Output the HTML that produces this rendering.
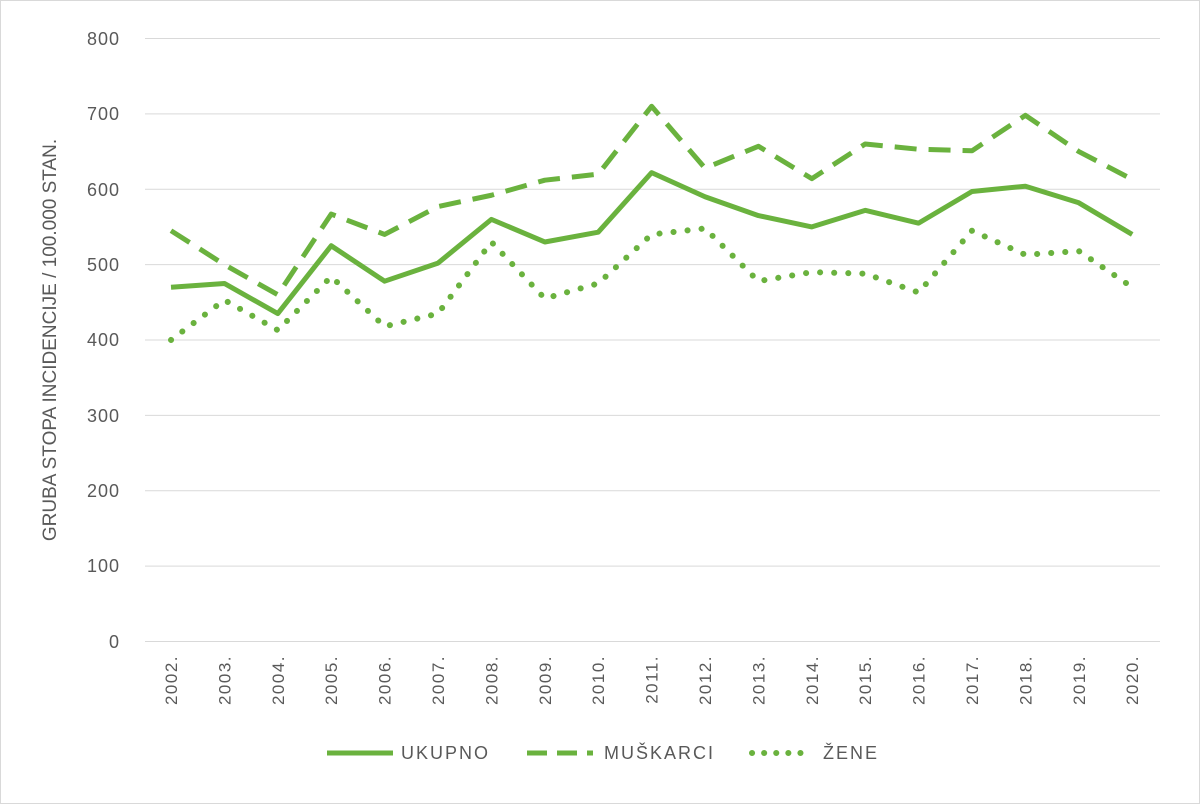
<!DOCTYPE html>
<html><head><meta charset="utf-8"><style>
body{margin:0;background:#fff}
svg{display:block;font-family:"Liberation Sans",sans-serif}
</style></head><body>
<svg width="1200" height="804" viewBox="0 0 1200 804">
<rect x="0.5" y="0.5" width="1199" height="803" fill="#fff" stroke="#d9d9d9"/>
<g stroke="#d9d9d9" stroke-width="1">
<line x1="145" x2="1160" y1="38.5" y2="38.5"/>
<line x1="145" x2="1160" y1="113.9" y2="113.9"/>
<line x1="145" x2="1160" y1="189.3" y2="189.3"/>
<line x1="145" x2="1160" y1="264.6" y2="264.6"/>
<line x1="145" x2="1160" y1="340" y2="340"/>
<line x1="145" x2="1160" y1="415.4" y2="415.4"/>
<line x1="145" x2="1160" y1="490.8" y2="490.8"/>
<line x1="145" x2="1160" y1="566.1" y2="566.1"/>
<line x1="145" x2="1160" y1="641.5" y2="641.5"/>
</g>
<g fill="#595959" font-size="18" text-anchor="end" letter-spacing="1">
<text x="120" y="45">800</text><text x="120" y="120">700</text><text x="120" y="196">600</text>
<text x="120" y="271">500</text><text x="120" y="346">400</text><text x="120" y="422">300</text>
<text x="120" y="497">200</text><text x="120" y="572">100</text><text x="120" y="648">0</text>
</g>
<text transform="translate(56,340) rotate(-90)" text-anchor="middle" fill="#595959" font-size="19">GRUBA STOPA INCIDENCIJE / 100.000 STAN.</text>
<g fill="#595959" font-size="17" text-anchor="end" letter-spacing="1.5">
<text transform="translate(177,655) rotate(-90)">2002.</text>
<text transform="translate(230.4,655) rotate(-90)">2003.</text>
<text transform="translate(283.8,655) rotate(-90)">2004.</text>
<text transform="translate(337.2,655) rotate(-90)">2005.</text>
<text transform="translate(390.6,655) rotate(-90)">2006.</text>
<text transform="translate(444,655) rotate(-90)">2007.</text>
<text transform="translate(497.4,655) rotate(-90)">2008.</text>
<text transform="translate(550.8,655) rotate(-90)">2009.</text>
<text transform="translate(604.2,655) rotate(-90)">2010.</text>
<text transform="translate(657.6,655) rotate(-90)">2011.</text>
<text transform="translate(711,655) rotate(-90)">2012.</text>
<text transform="translate(764.4,655) rotate(-90)">2013.</text>
<text transform="translate(817.8,655) rotate(-90)">2014.</text>
<text transform="translate(871.2,655) rotate(-90)">2015.</text>
<text transform="translate(924.6,655) rotate(-90)">2016.</text>
<text transform="translate(978,655) rotate(-90)">2017.</text>
<text transform="translate(1031.4,655) rotate(-90)">2018.</text>
<text transform="translate(1084.8,655) rotate(-90)">2019.</text>
<text transform="translate(1138.2,655) rotate(-90)">2020.</text>
</g>
<g fill="none" stroke="#6ab23e" stroke-width="5" stroke-linejoin="round">
<polyline id="u"/>
<polyline id="m" stroke-dasharray="22 12"/>
<polyline id="z" stroke-dasharray="0.1 14" stroke-linecap="round" stroke-width="6"/>
</g>
<g stroke="#6ab23e" stroke-width="5" fill="none">
<line x1="327" x2="393" y1="753" y2="753"/>
<line x1="527" x2="593" y1="753" y2="753" stroke-dasharray="20 10"/>
<line x1="752" x2="812" y1="753" y2="753" stroke-dasharray="0.1 12" stroke-linecap="round" stroke-width="6"/>
</g>
<g fill="#595959" font-size="18" letter-spacing="2">
<text x="401" y="759">UKUPNO</text><text x="604" y="759">MUŠKARCI</text><text x="823" y="759">ŽENE</text>
</g>
<script>
var U=[470,475,435,525,478,502,560,530,543,622,590,565,550,572,555,597,604,582,540];
var M=[545,500,460,567,540,577,592,612,620,710,628,657,614,660,653,651,698,650,613];
var Z=[400,453,413,484,418,435,530,455,475,540,548,478,490,488,463,545,513,518,470];
function X(i){return 171+i*53.4}function Y(v){return 641.5-v*0.7538}
function pts(a){return a.map(function(v,i){return X(i)+","+Y(v)}).join(" ")}
document.getElementById("u").setAttribute("points",pts(U));
document.getElementById("m").setAttribute("points",pts(M));
document.getElementById("z").setAttribute("points",pts(Z));
</script>
</svg>
</body></html>
